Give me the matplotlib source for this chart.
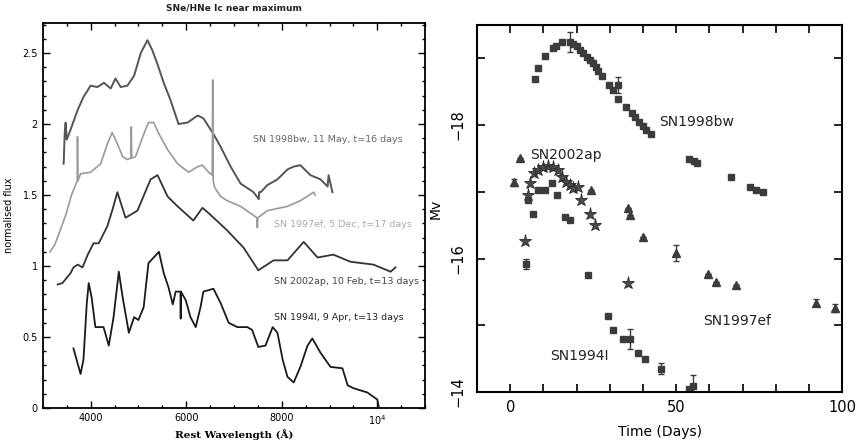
import matplotlib
matplotlib.use("Agg")
import matplotlib.pyplot as plt
from matplotlib.ticker import MultipleLocator, FixedLocator

# ---------------- Left panel data: spectra ----------------
w_98bw = [3435, 3460, 3477, 3500, 3580, 3730, 3850, 4000, 4140, 4280, 4420, 4520, 4630, 4770, 4910,
          5050, 5190, 5290, 5400, 5530, 5670, 5840, 6030, 6240, 6360, 6570, 6720, 6930, 7140, 7410,
          7520, 7525, 7560, 7700, 7910, 8120, 8250, 8390, 8600, 8810, 8960, 8980, 9060]
f_98bw = [1.72, 1.95, 2.01, 1.89, 1.96, 2.10, 2.19, 2.27, 2.26, 2.29, 2.25, 2.32, 2.26, 2.27, 2.34,
          2.50, 2.59, 2.52, 2.42, 2.29, 2.17, 2.00, 2.01, 2.06, 2.04, 1.93, 1.84, 1.70, 1.58, 1.52,
          1.47, 1.52, 1.52, 1.57, 1.61, 1.68, 1.70, 1.71, 1.64, 1.61, 1.56, 1.64, 1.52]

w_97ef = [3150, 3250, 3350, 3480, 3600, 3720, 3725, 3735, 3790, 4000, 4210, 4350, 4450, 4560, 4670,
          4770, 4845, 4850, 4860, 4940, 5090, 5210, 5320, 5430, 5610, 5820, 6050, 6240, 6340, 6470,
          6545, 6555, 6565, 6600, 6720, 6860, 7140, 7480, 7490, 7500, 7700, 8120, 8390, 8670, 8700]
f_97ef = [1.10, 1.15, 1.24, 1.36, 1.50, 1.60, 1.91, 1.60, 1.65, 1.66, 1.72, 1.86, 1.94, 1.86, 1.77,
          1.75, 1.76, 1.98, 1.76, 1.77, 1.91, 2.01, 2.01, 1.93, 1.82, 1.72, 1.66, 1.70, 1.71, 1.66,
          1.64, 2.31, 1.60, 1.55, 1.49, 1.46, 1.42, 1.34, 1.27, 1.34, 1.39, 1.42, 1.46, 1.52, 1.50]

w_02ap = [3310, 3410, 3580, 3640, 3730, 3830, 3940, 4060, 4170, 4350, 4460, 4560, 4730, 4980, 5255,
          5400, 5610, 5820, 6150, 6340, 6510, 6860, 7200, 7510, 7830, 8120, 8460, 8750, 9080, 9440,
          9920, 10280, 10380]
f_02ap = [0.87, 0.88, 0.95, 0.99, 1.01, 0.99, 1.08, 1.16, 1.16, 1.28, 1.40, 1.52, 1.34, 1.39, 1.61,
          1.64, 1.49, 1.42, 1.32, 1.41, 1.36, 1.25, 1.13, 0.97, 1.04, 1.04, 1.17, 1.06, 1.08, 1.03,
          1.01, 0.96, 0.99]

w_94I = [3640, 3690, 3790, 3850, 3920, 3960, 4020, 4100, 4270, 4380, 4480, 4590, 4670, 4800, 4910,
         5000, 5110, 5210, 5320, 5430, 5530, 5630, 5720, 5780, 5880, 5885, 5890, 5990, 6090, 6200,
         6300, 6360, 6570, 6720, 6890, 7070, 7280, 7380, 7510, 7660, 7810, 7910, 8020, 8120, 8250,
         8390, 8540, 8640, 8810, 9020, 9270, 9380, 9500, 9790, 10000, 10030]
f_94I = [0.42, 0.36, 0.24, 0.34, 0.74, 0.88, 0.78, 0.57, 0.57, 0.44, 0.64, 0.96, 0.78, 0.53, 0.64,
         0.62, 0.71, 1.02, 1.06, 1.10, 0.95, 0.85, 0.73, 0.82, 0.82, 0.63, 0.82, 0.76, 0.64, 0.57,
         0.71, 0.82, 0.84, 0.74, 0.60, 0.57, 0.57, 0.55, 0.43, 0.44, 0.57, 0.53, 0.34, 0.22, 0.18,
         0.29, 0.44, 0.49, 0.39, 0.29, 0.28, 0.16, 0.14, 0.11, 0.06, 0.01]

spec_labels = ["SN 1998bw, 11 May, t=16 days", "SN 1997ef, 5 Dec, t=17 days",
               "SN 2002ap, 10 Feb, t=13 days", "SN 1994I, 9 Apr, t=13 days"]
spec_label_x = [7400, 7830, 7830, 7830]
spec_label_y = [1.89, 1.29, 0.89, 0.64]

# ---------------- Right panel data: light curves ----------------
d_98bw = [7.5, 8.5, 10.5, 12.9, 13.8, 15.5, 18, 18.8, 20, 21, 22, 23, 24, 25, 25.8, 26.5, 27.6,
          29.8, 30.9, 32.5, 32.5, 34.8, 36.6, 37.6, 38.8, 40, 41, 42.5, 54, 55.3, 56.4, 66.4,
          72.3, 74.2, 76.3]
m_98bw = [-18.69, -18.86, -19.04, -19.16, -19.19, -19.25, -19.25, -19.22, -19.18, -19.13, -19.08,
          -19.02, -18.98, -18.93, -18.87, -18.81, -18.74, -18.60, -18.53, -18.60, -18.39, -18.27,
          -18.18, -18.12, -18.05, -17.98, -17.92, -17.86, -17.49, -17.46, -17.43, -17.22, -17.07,
          -17.02, -16.99]
e_98bw = [0, 0, 0, 0, 0, 0, 0.15, 0, 0, 0, 0, 0, 0, 0, 0, 0, 0, 0, 0, 0.12, 0, 0, 0, 0, 0, 0, 0,
          0, 0, 0, 0, 0, 0, 0, 0]

d_02ap = [4.5, 5.4, 6, 7.2, 8.4, 9.9, 11.4, 12.9, 14.4, 15.6, 16.8, 18, 18.9, 20.4, 21.3, 24,
          25.5, 35.4]
m_02ap = [-16.27, -16.95, -17.13, -17.28, -17.32, -17.37, -17.38, -17.37, -17.32, -17.22, -17.14,
          -17.10, -17.05, -17.07, -16.87, -16.66, -16.51, -15.64]

d_97ef = [1, 3, 24.3, 35.5, 36, 40, 50, 59.5, 62, 68, 92, 98]
m_97ef = [-17.14, -17.5, -17.02, -16.75, -16.65, -16.32, -16.09, -15.77, -15.65, -15.61, -15.34,
          -15.26]
e_97ef = [0.05, 0, 0, 0, 0, 0, 0.12, 0, 0, 0, 0.05, 0.06]

d_94I = [4.8, 5.5, 6.9, 8.4, 10.5, 12.6, 14, 16.5, 18, 23.5, 29.4, 31, 34, 36, 38.5, 40.5, 45.3,
         54, 55]
m_94I = [-15.92, -16.87, -16.67, -17.02, -17.02, -17.13, -16.95, -16.62, -16.57, -15.76, -15.14,
         -14.93, -14.80, -14.80, -14.59, -14.50, -14.35, -14.05, -14.09]
e_94I = [0.08, 0, 0, 0, 0, 0, 0, 0, 0, 0, 0, 0, 0, 0.15, 0, 0, 0.08, 0, 0.17]

lc_labels = ["SN1998bw", "SN2002ap", "SN1997ef", "SN1994I"]
lc_label_x = [45, 6, 58, 12]
lc_label_y = [-18.05, -17.55, -15.07, -14.54]

# ---------------- Figure ----------------
fig = plt.figure(figsize=(8.57, 4.45), dpi=100)

# Left panel
ax1 = fig.add_axes([0.050, 0.083, 0.446, 0.865])
ax1.plot(w_98bw, f_98bw, color="#555555", lw=1.4)
ax1.plot(w_97ef, f_97ef, color="#9a9a9a", lw=1.2)
ax1.plot(w_02ap, f_02ap, color="#333333", lw=1.3)
ax1.plot(w_94I, f_94I, color="#1a1a1a", lw=1.3)
lab_colors = ["#666666", "#aaaaaa", "#444444", "#222222"]
for t, x, y, c in zip(spec_labels, spec_label_x, spec_label_y, lab_colors):
    ax1.text(x, y, t, fontsize=6.8, color=c, va="center", ha="left")
ax1.set_xlim(3000, 11000)
ax1.set_ylim(0, 2.71)
ax1.set_xticks([4000, 6000, 8000, 10000])
ax1.set_xticklabels(["4000", "6000", "8000", r"$10^4$"])
ax1.xaxis.set_minor_locator(MultipleLocator(500))
ax1.set_yticks([0, 0.5, 1, 1.5, 2, 2.5])
ax1.set_yticklabels(["0", "0.5", "1", "1.5", "2", "2.5"])
ax1.yaxis.set_minor_locator(MultipleLocator(0.1))
ax1.tick_params(which="both", direction="in", top=True, right=True, labelsize=7, width=1.0)
ax1.tick_params(which="major", length=5)
ax1.tick_params(which="minor", length=2.5)
for s in ax1.spines.values():
    s.set_linewidth(1.3)
ax1.set_title("SNe/HNe Ic near maximum", fontsize=6.5, fontweight="bold", pad=9, color="#222222")
ax1.set_xlabel("Rest Wavelength (Å)", fontsize=7.5, family="DejaVu Serif", fontweight="bold",
               labelpad=2)
ax1.set_ylabel("normalised flux", fontsize=7, labelpad=6)

# Right panel
ax2 = fig.add_axes([0.5566, 0.119, 0.426, 0.825])
mc = "#3c3c3c"
ax2.errorbar(d_98bw, m_98bw, yerr=e_98bw, fmt="s", ms=4.2, color=mc, ecolor=mc, elinewidth=1,
             capsize=2.5, lw=0)
ax2.errorbar(d_97ef, m_97ef, yerr=e_97ef, fmt="^", ms=5.2, color=mc, ecolor=mc, elinewidth=1,
             capsize=2.5, lw=0)
ax2.errorbar(d_94I, m_94I, yerr=e_94I, fmt="s", ms=4, color=mc, ecolor=mc, elinewidth=1,
             capsize=2.5, lw=0)
ax2.plot(d_02ap, m_02ap, "*", ms=9.5, color="#4a4a4a", mec="#2a2a2a", mew=0.6, lw=0)
for t, x, y in zip(lc_labels, lc_label_x, lc_label_y):
    ax2.text(x, y, t, fontsize=10, color="#222222", va="center", ha="left")
ax2.set_xlim(-10, 100)
ax2.set_ylim(-14, -19.5)
ax2.xaxis.set_major_locator(FixedLocator([0, 50, 100]))
ax2.xaxis.set_minor_locator(MultipleLocator(10))
ax2.yaxis.set_major_locator(FixedLocator([-18, -16, -14]))
ax2.yaxis.set_minor_locator(FixedLocator([-19, -17, -15]))
ax2.set_yticklabels(["\u221218", "\u221216", "\u221214"], rotation=90, va="center")
ax2.tick_params(which="both", direction="in", top=True, right=True, labelsize=10.5, width=1.2)
ax2.tick_params(which="major", length=6)
ax2.tick_params(axis="x", which="major", pad=6)
ax2.tick_params(axis="y", which="major", pad=8)
ax2.tick_params(which="minor", length=6)
for s in ax2.spines.values():
    s.set_linewidth(1.5)
ax2.set_xlabel("Time (Days)", fontsize=10, labelpad=7)
ax2.set_ylabel("Mv", fontsize=10, labelpad=6)

fig.savefig("out.png", dpi=100)
